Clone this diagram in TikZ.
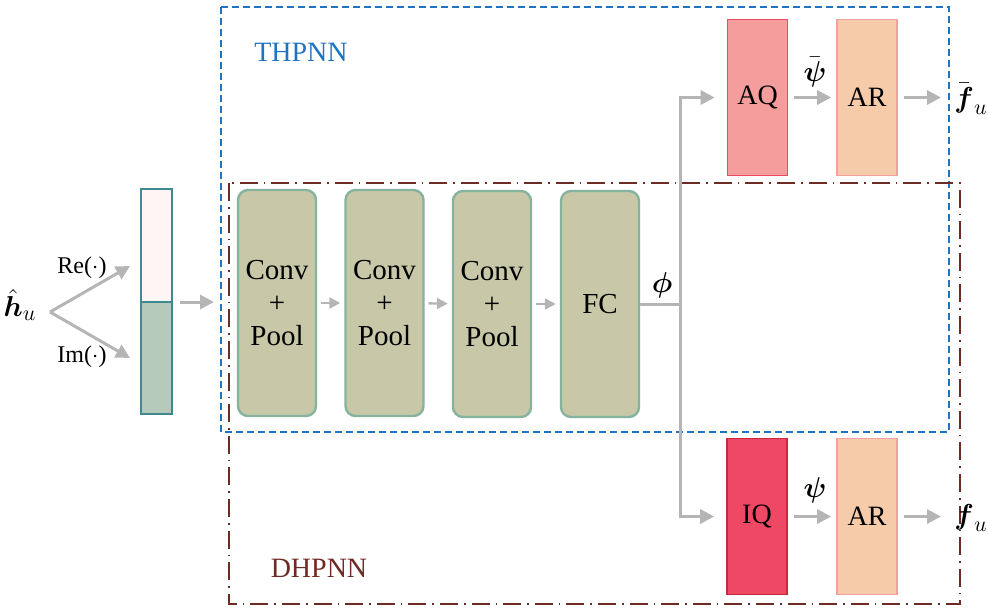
\documentclass[tikz,border=0pt]{standalone}
\usepackage{amsmath}
\usepackage{fontspec}
\setmainfont{Liberation Serif}
\usetikzlibrary{positioning,arrows.meta,calc}
\definecolor{thp}{HTML}{1F74C2}
\definecolor{dhp}{HTML}{6E2A24}
\definecolor{flow}{HTML}{B5B5B5}
\definecolor{cnn}{HTML}{C8C8A9}
\definecolor{cnnedge}{HTML}{86B39C}
\definecolor{vedge}{HTML}{3E8A8F}
\definecolor{vtop}{HTML}{FFF5F5}
\definecolor{vbot}{HTML}{B5CABB}
\definecolor{aq}{HTML}{F59C9C}
\definecolor{aqedge}{HTML}{EC4A64}
\definecolor{iq}{HTML}{EE4865}
\definecolor{iqedge}{HTML}{C8283F}
\definecolor{ar}{HTML}{F6CBAA}
\definecolor{aredge}{HTML}{F4A0A0}

\begin{document}
\begin{tikzpicture}[x=.5pt,y=-.5pt,
  layer/.style={draw=cnnedge,fill=cnn,line width=1.2pt,rounded corners=5pt,minimum width=39pt,minimum height=113pt,align=center,font=\fontsize{14.5}{16.5}\selectfont},
  quant/.style={line width=.8pt,minimum width=30pt,minimum height=78pt,font=\fontsize{14}{17}\selectfont},
  flowline/.style={flow,line width=1.5pt,-{Triangle[length=7pt,width=7pt]}},
  thin flow/.style={flow,line width=1.2pt,-{Triangle[length=5.5pt,width=5.5pt]}}]
\useasboundingbox (0,0) rectangle (988,610);
% framework boxes
\draw[thp,line width=.9pt,dash pattern=on 3.5pt off 2pt] (221,7) rectangle (949,432);
\draw[dhp,line width=.9pt,dash pattern=on 9pt off 3pt on .8pt off 3pt] (229,183) rectangle (960,604);
\node[text=thp,font=\fontsize{14}{17}\selectfont] (thpnn) at (301,52){THPNN};
\node[text=dhp,font=\fontsize{14}{17}\selectfont] (dhpnn) at (319,568){DHPNN};
% input and real/imag split
\node[font=\fontsize{15}{18}\selectfont,inner sep=1pt] (h) at (20,305){$\hat{\boldsymbol{h}}_u$};
\coordinate (sp) at (50,312);
\coordinate (reend) at (130,266);
\coordinate (imend) at (130,358);
\node[font=\fontsize{12}{14}\selectfont] (relab) at (82,268){Re($\cdot$)};
\node[font=\fontsize{12}{14}\selectfont] (imlab) at (82,357){Im($\cdot$)};
\draw[flowline] (sp) -- (reend);
\draw[flowline] (sp) -- (imend);
\node[draw=vedge,fill=vtop,line width=.8pt,minimum width=15.5pt,minimum height=56.5pt,inner sep=0pt] (re) at (156.5,245.5){};
\node[draw=vedge,fill=vbot,line width=.8pt,minimum width=15.5pt,minimum height=56pt,inner sep=0pt] (im) at (156.5,358){};
\coordinate (vin) at (214,302);
\draw[flowline] (180,302) -- (vin);
% feature extractor
\node[layer] (c1) at (277,303){Conv\\+\\Pool};
\node[layer] (c2) at (384.5,303){Conv\\+\\Pool};
\node[layer] (c3) at (492,304){Conv\\+\\Pool};
\node[layer] (fc) at (600,304){FC};
\draw[thin flow,shorten <=2pt,shorten >=2pt] (c1) -- (c2);
\draw[thin flow,shorten <=2pt,shorten >=2pt] (c2) -- (c3);
\draw[thin flow,shorten <=2pt,shorten >=2pt] (c3) -- (fc);
\node[font=\fontsize{15}{18}\selectfont] (phi) at (662,285){$\boldsymbol{\phi}$};
\coordinate (br) at (680,304);
\draw[flow,line width=1.5pt] (fc.east) -- (br);
% quantizers and reconstruction
\node[quant,draw=aqedge,fill=aq] (aq) at (757.5,97.5){AQ};
\node[quant,draw=aredge,fill=ar] (ar1) at (867,97.5){AR};
\node[quant,draw=iqedge,fill=iq] (iq) at (757,516.5){IQ};
\node[quant,draw=aredge,fill=ar] (ar2) at (867,516.5){AR};
\draw[flowline,shorten >=6pt] (br) |- (aq.west);
\draw[flowline,shorten >=6pt] (br) |- (iq.west);
\draw[flowline,shorten <=3pt,shorten >=2.5pt] (aq) -- (ar1);
\draw[flowline,shorten <=3pt,shorten >=2.5pt] (iq) -- (ar2);
\node[font=\fontsize{15}{18}\selectfont] (psib) at (815,72){$\bar{\boldsymbol{\psi}}$};
\node[font=\fontsize{15}{18}\selectfont] (psi) at (815,490){$\boldsymbol{\psi}$};
\coordinate (o1) at (941,97.5);
\coordinate (o2) at (941,516.5);
\draw[flowline,shorten <=3pt] (ar1) -- (o1);
\draw[flowline,shorten <=3pt] (ar2) -- (o2);
\node[font=\fontsize{15}{18}\selectfont,inner sep=1pt] (fbar) at (971,99){$\bar{\boldsymbol{f}}_u$};
\node[font=\fontsize{15}{18}\selectfont,inner sep=1pt] (f) at (971,518){$\boldsymbol{f}_u$};
\end{tikzpicture}
\end{document}
